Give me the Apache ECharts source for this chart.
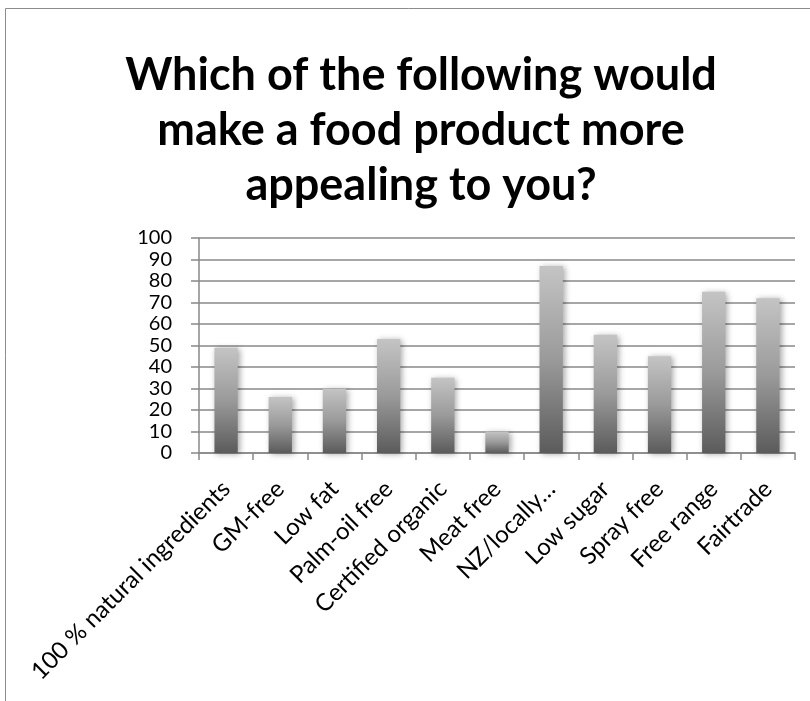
<!DOCTYPE html>
<html>
<head>
<meta charset="utf-8">
<script src="https://cdn.jsdelivr.net/npm/echarts@6/dist/echarts.min.js"></script>
<style>html,body{margin:0;padding:0;background:#fff;}#c{width:810px;height:701px;}</style>
</head>
<body>
<div id="c"></div>
<script>
const titleText = "Which of the following would\nmake a food product more\nappealing to you?";
const categories = ["100 % natural ingredients","GM-free","Low fat","Palm-oil free","Certified organic","Meat free","NZ/locally…","Low sugar","Spray free","Free range","Fairtrade"];
const values = [49, 26, 30, 53, 35, 10, 87, 55, 45, 75, 72];
const yTicks = {min: 0, max: 100, interval: 10};

const chart = echarts.init(document.getElementById('c'));
chart.setOption({
  animation: false,
  backgroundColor: '#fff',
  graphic: [{
    type: 'rect', shape: {x: 5.5, y: 8.5, width: 900, height: 800},
    style: {fill: 'none', stroke: '#8c8c8c', lineWidth: 1}, silent: true, z: -1
  }],
  title: {
    text: titleText, left: 416, top: 43, textAlign: 'center',
    textStyle: {fontFamily: 'Lato', fontWeight: 'bold', fontSize: 45, lineHeight: 55, color: '#000'}
  },
  grid: {left: 199, right: 15, top: 238, bottom: 248, containLabel: false},
  xAxis: {
    type: 'category', data: categories,
    axisLine: {show: true, lineStyle: {color: '#888', width: 1.5}},
    axisTick: {show: true, length: 7, alignWithLabel: false, lineStyle: {color: '#888', width: 1.5}},
    axisLabel: {interval: 0, rotate: 45, fontSize: 24, fontFamily: 'Lato', color: '#000', margin: 32}
  },
  yAxis: {
    type: 'value', min: yTicks.min, max: yTicks.max, interval: yTicks.interval,
    axisLine: {show: true, lineStyle: {color: '#888', width: 1.5}},
    axisTick: {show: true, length: 8, lineStyle: {color: '#888', width: 1.5}},
    splitLine: {show: true, lineStyle: {color: '#888', width: 1.5}},
    axisLabel: {fontSize: 20, fontFamily: 'Lato', color: '#000', margin: 27, align: 'right',
      showMinLabel: true, showMaxLabel: true}
  },
  series: [{
    type: 'bar', data: values, barWidth: '43%',
    itemStyle: {
      color: new echarts.graphic.LinearGradient(0, 0, 0, 1, [
        {offset: 0, color: '#c4c4c4'},
        {offset: 0.5, color: '#9a9a9a'},
        {offset: 1, color: '#5b5b5b'}
      ]),
      shadowBlur: 6, shadowColor: 'rgba(0,0,0,0.35)', shadowOffsetX: 2, shadowOffsetY: 1
    }
  }]
});
</script>
</body>
</html>
